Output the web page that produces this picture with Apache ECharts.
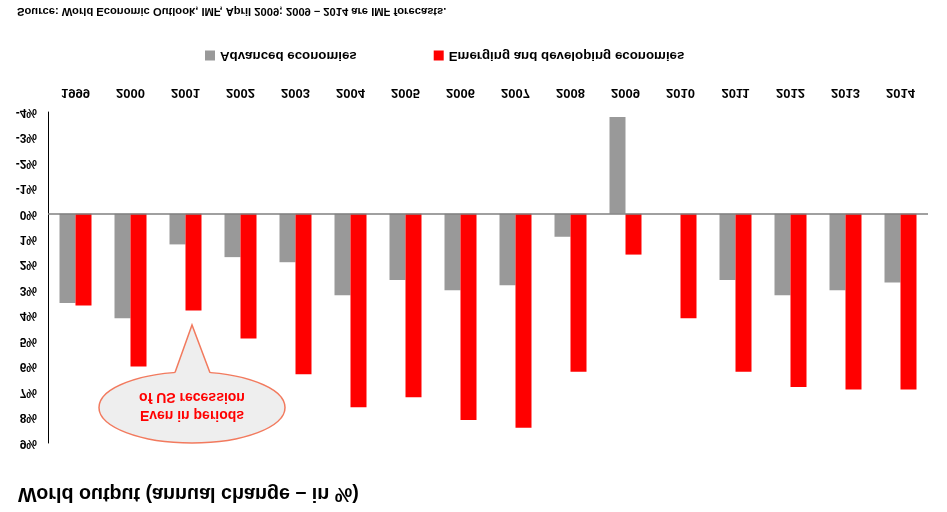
<!DOCTYPE html>
<html>
<head>
<meta charset="utf-8">
<script src="https://cdn.jsdelivr.net/npm/echarts@6/dist/echarts.min.js"></script>
<style>
  html, body { margin: 0; padding: 0; background: #fff; }
  #chart { width: 947px; height: 512px; transform: scaleY(-1); transform-origin: 50% 50%; }
</style>
</head>
<body>
<div id="chart"></div>
<script>
const years = ['1999','2000','2001','2002','2003','2004','2005','2006','2007','2008','2009','2010','2011','2012','2013','2014'];
const advanced = [3.5, 4.1, 1.2, 1.7, 1.9, 3.2, 2.6, 3.0, 2.8, 0.9, -3.8, 0.0, 2.6, 3.2, 3.0, 2.7];
const emerging = [3.6, 6.0, 3.8, 4.9, 6.3, 7.6, 7.2, 8.1, 8.4, 6.2, 1.6, 4.1, 6.2, 6.8, 6.9, 6.9];
const seriesNames = ['Advanced economies', 'Emerging and developing economies'];
const titleText = 'World output (annual change \u2013 in %)';
const sourceText = 'Source: World Economic Outlook, IMF, April 2009; 2009 \u2013 2014 are IMF forecasts.';
const calloutLines = ['Even in periods', 'of US recession'];

const FONT = 'Arial, "Liberation Sans", sans-serif';
const chart = echarts.init(document.getElementById('chart'), null, { renderer: 'canvas' });

const calloutFill = '#eeeeee';
const calloutStroke = '#f27a5e';

chart.setOption({
  animation: false,
  backgroundColor: '#ffffff',
  title: {
    text: titleText,
    left: 18, top: 9, padding: 0,
    textStyle: { fontFamily: FONT, fontSize: 19.7, fontWeight: 'bold', color: '#000' }
  },
  legend: {
    data: seriesNames,
    left: 205, top: 450, padding: 0,
    itemWidth: 10, itemHeight: 10, itemGap: 77,
    icon: 'rect',
    textStyle: { fontFamily: FONT, fontSize: 13.3, fontWeight: 'bold', color: '#000' }
  },
  grid: { left: 48, right: 19, top: 69, bottom: 112, containLabel: false },
  xAxis: {
    type: 'category',
    data: years,
    position: 'bottom',
    axisLine: { show: false, onZero: false },
    axisTick: { show: false },
    axisLabel: { margin: 13, fontFamily: FONT, fontSize: 13, fontWeight: 'bold', color: '#000' },
    splitLine: { show: false }
  },
  yAxis: {
    type: 'value',
    min: -4, max: 9, interval: 1,
    axisLine: { show: true, lineStyle: { color: '#000', width: 1 } },
    axisTick: { show: false },
    splitLine: { show: false },
    axisLabel: { margin: 11, formatter: '{value}%', fontFamily: FONT, fontSize: 12, fontWeight: 'bold', color: '#000' }
  },
  series: [
    {
      name: seriesNames[0], type: 'bar', data: advanced,
      barWidth: 16, barGap: '0%',
      itemStyle: { color: '#999999' },
      markLine: {
        silent: true, symbol: 'none', label: { show: false },
        lineStyle: { color: '#808080', width: 1.5, type: 'solid' },
        data: [{ yAxis: 0 }]
      }
    },
    {
      name: seriesNames[1], type: 'bar', data: emerging,
      barWidth: 16, barGap: '0%',
      itemStyle: { color: '#ff0000' }
    }
  ],
  graphic: [
    {
      type: 'ellipse', z: 100,
      shape: { cx: 192, cy: 104.5, rx: 93, ry: 35.5 },
      style: { fill: calloutFill, stroke: calloutStroke, lineWidth: 1.5 }
    },
    {
      type: 'polygon', z: 101,
      shape: { points: [[171.6, 130], [192, 187], [213.5, 130]] },
      style: { fill: calloutFill, stroke: null }
    },
    {
      type: 'polyline', z: 102,
      shape: { points: [[175, 139.4], [192, 187], [210, 139.3]] },
      style: { fill: null, stroke: calloutStroke, lineWidth: 1.5 }
    },
    {
      type: 'text', z: 103, x: 192, y: 97,
      style: { text: calloutLines[0], fill: '#ff0000', font: 'bold 14px ' + FONT, align: 'center', verticalAlign: 'middle' }
    },
    {
      type: 'text', z: 103, x: 192, y: 115,
      style: { text: calloutLines[1], fill: '#ff0000', font: 'bold 14px ' + FONT, align: 'center', verticalAlign: 'middle' }
    },
    {
      type: 'text', z: 103, x: 17, y: 501,
      style: { text: sourceText, fill: '#000', font: 'bold 11.2px ' + FONT, align: 'left', verticalAlign: 'middle' }
    }
  ]
});
</script>
</body>
</html>
